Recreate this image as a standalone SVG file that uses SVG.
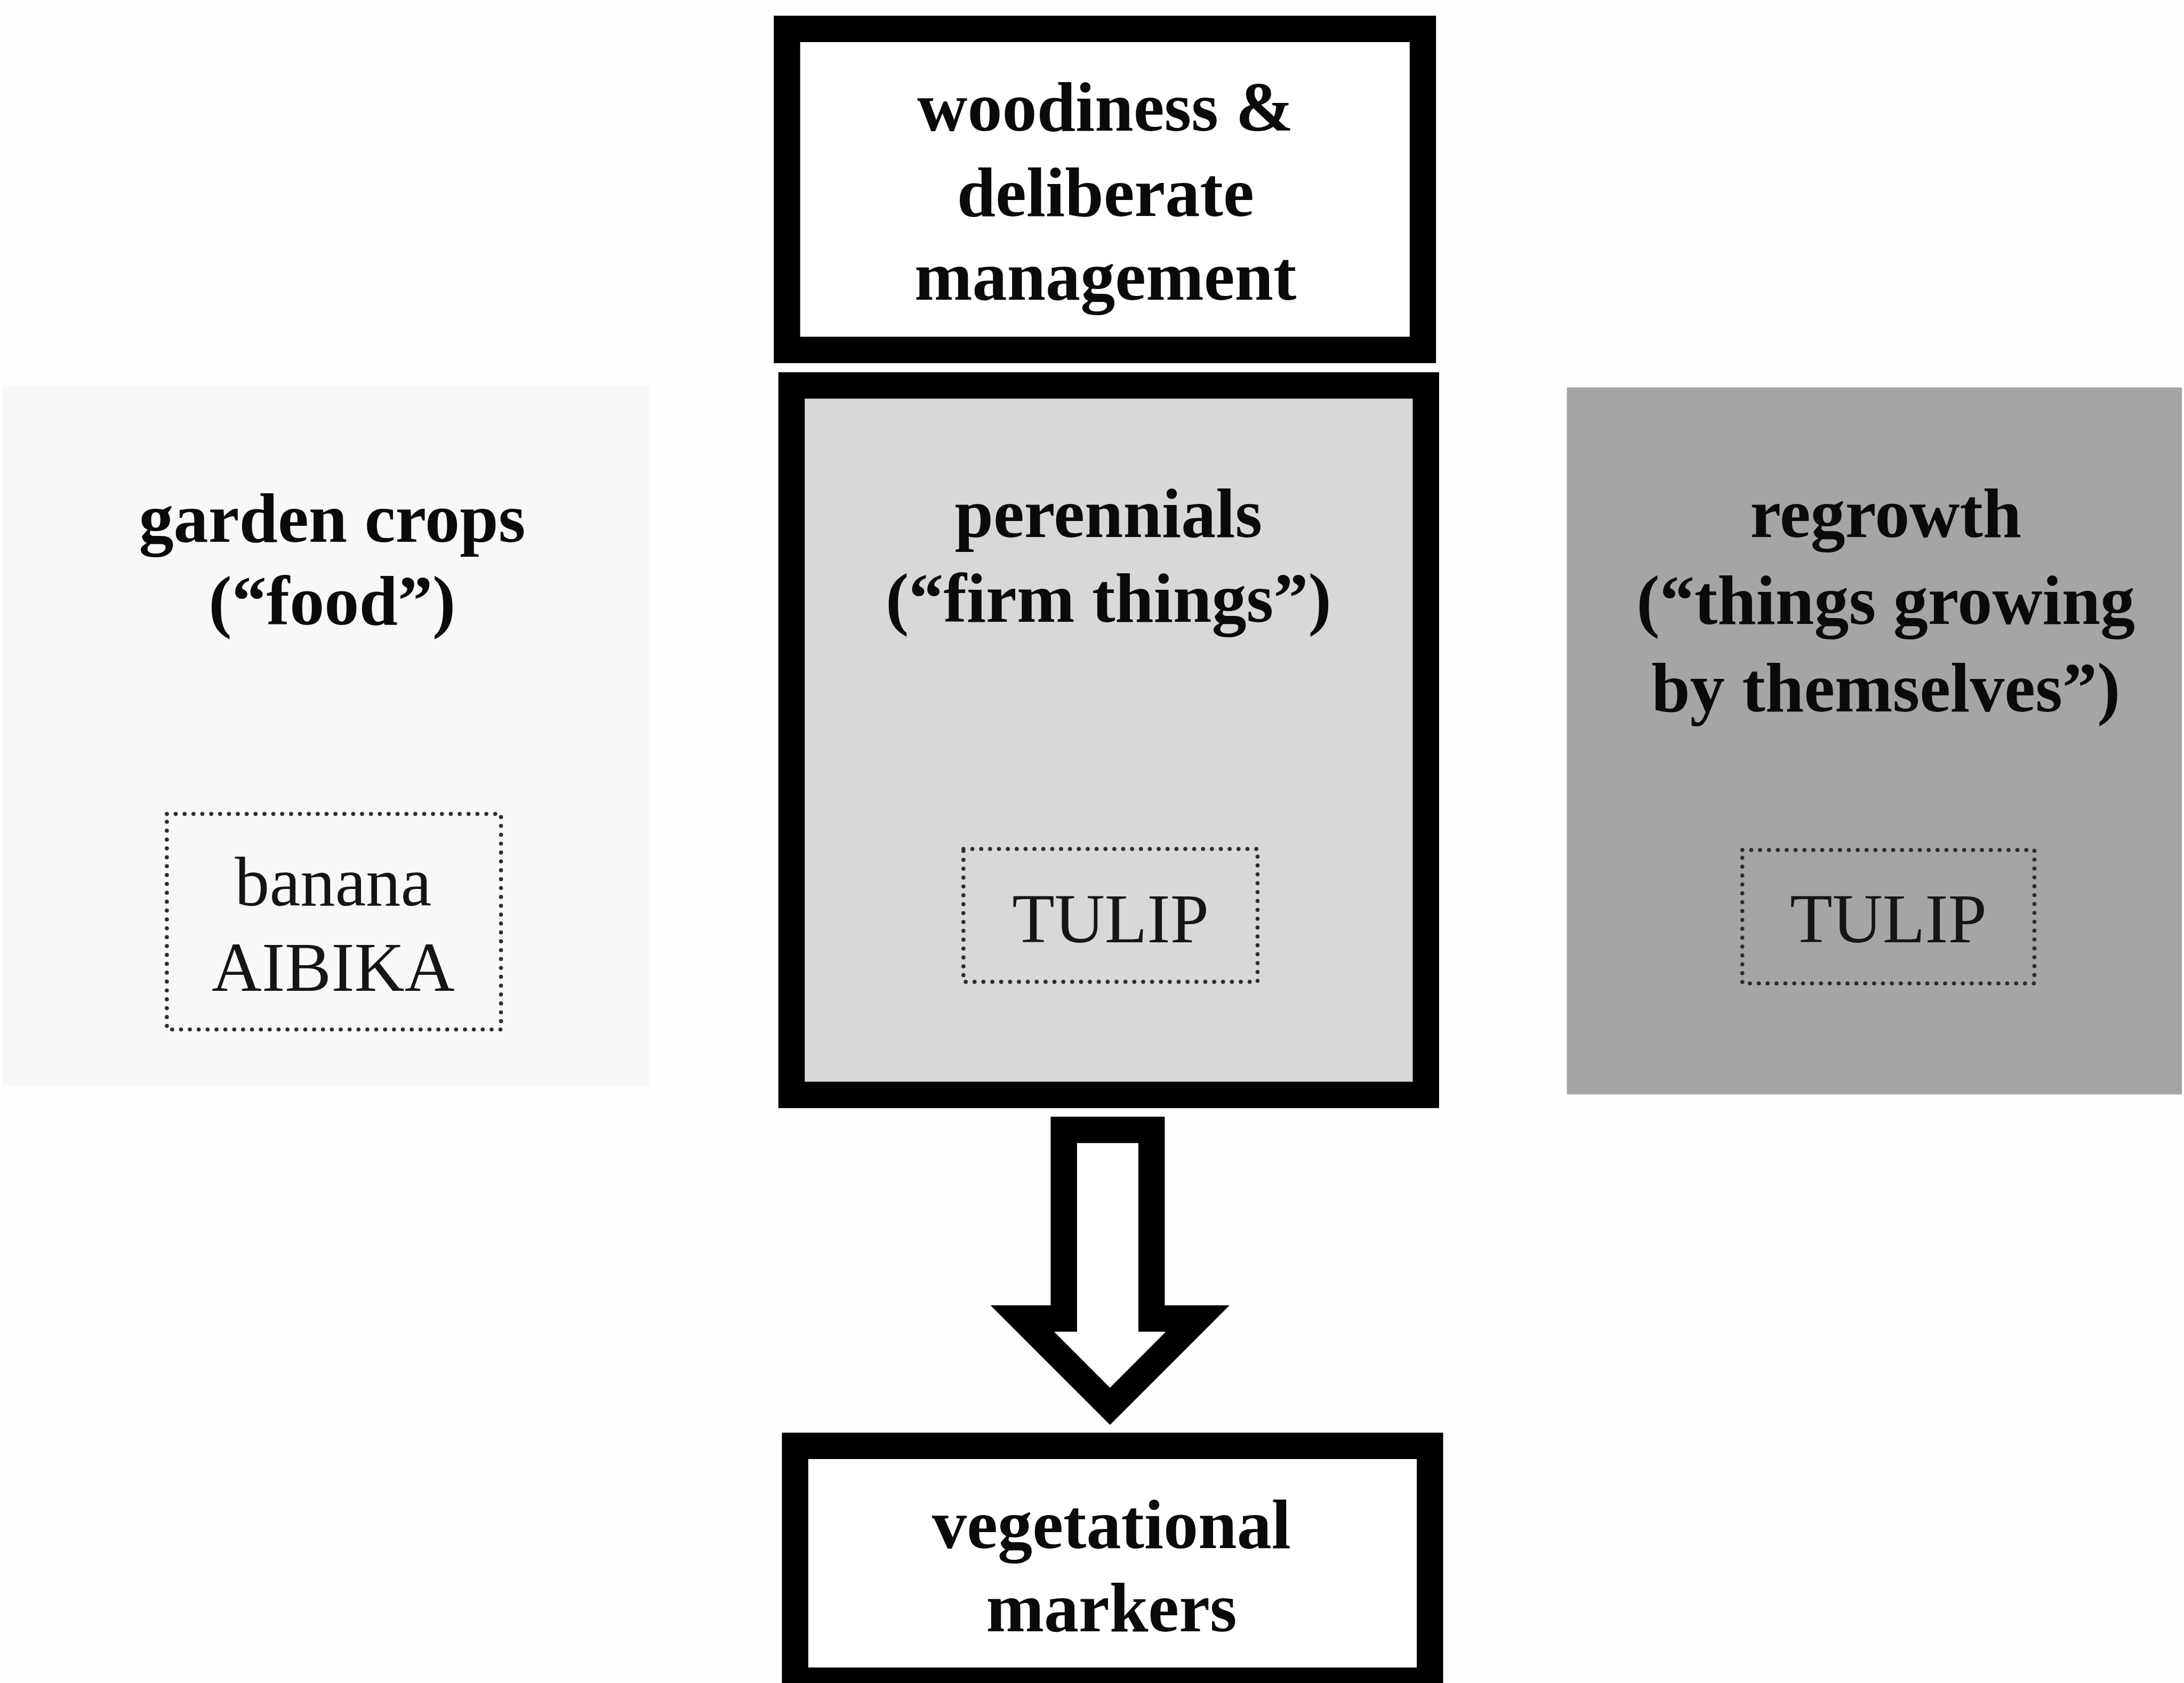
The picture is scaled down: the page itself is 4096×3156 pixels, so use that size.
<svg xmlns="http://www.w3.org/2000/svg" width="4096" height="3156" viewBox="0 0 4096 3156">
<style>
.box{fill:#ffffff;stroke:#000000;stroke-width:52;stroke-linejoin:miter}
.dot{fill:none;stroke:#2e2e2e;stroke-width:8;stroke-linecap:round;stroke-dasharray:0.1 17.4}
.h{font-family:"Liberation Serif","Times New Roman",serif;font-weight:bold;font-size:137px;fill:#0a0a0a;text-anchor:middle}
.r{font-family:"Liberation Serif","Times New Roman",serif;font-size:137px;fill:#151515;text-anchor:middle}
</style>
<rect width="4096" height="3156" fill="#fefefe"/>
<g transform="scale(0.951)">
  <g id="garden-crops">
    <rect x="5" y="760" width="1275" height="1380" fill="#f8f8f8"/>
    <text class="h" x="655" y="1068">garden crops</text>
    <text class="h" x="655" y="1231">(“food”)</text>
    <g id="garden-examples">
      <rect class="dot" x="329" y="1605" width="659" height="425"/>
      <text class="r" x="657" y="1786">banana</text>
      <text class="r" x="657" y="1954">AIBIKA</text>
    </g>
  </g>
  <g id="woodiness">
    <rect class="box" x="1552" y="57" width="1254" height="633"/>
    <text class="h" x="2180" y="258">woodiness &amp;</text>
    <text class="h" x="2180" y="426">deliberate</text>
    <text class="h" x="2180" y="591">management</text>
  </g>
  <g id="perennials">
    <rect class="box" x="1561" y="760" width="1251" height="1399" style="fill:#d8d8d8"/>
    <text class="h" x="2186" y="1059">perennials</text>
    <text class="h" x="2186" y="1226">(“firm things”)</text>
    <g id="perennials-examples">
      <rect class="dot" x="1900" y="1674" width="580" height="262"/>
      <text class="r" x="2190" y="1858">TULIP</text>
    </g>
  </g>
  <g id="regrowth">
    <rect x="3090" y="764" width="1213" height="1394" fill="#a5a5a5"/>
    <text class="h" x="3719" y="1059">regrowth</text>
    <text class="h" x="3719" y="1230">(“things growing</text>
    <text class="h" x="3719" y="1403">by themselves”)</text>
    <g id="regrowth-examples">
      <rect class="dot" x="3436" y="1676" width="576" height="263"/>
      <text class="r" x="3724" y="1858">TULIP</text>
    </g>
  </g>
  <g id="vegetational-markers">
    <rect class="box" x="1568" y="2851" width="1252" height="463"/>
    <text class="h" x="2192" y="3053">vegetational</text>
    <text class="h" x="2192" y="3217">markers</text>
  </g>
  <g id="connectors">
    <path class="box" d="M2098,2228 L2271,2228 L2271,2600 L2362,2600 L2189,2773 L2016,2600 L2098,2600 Z"/>
  </g>
</g>
</svg>
